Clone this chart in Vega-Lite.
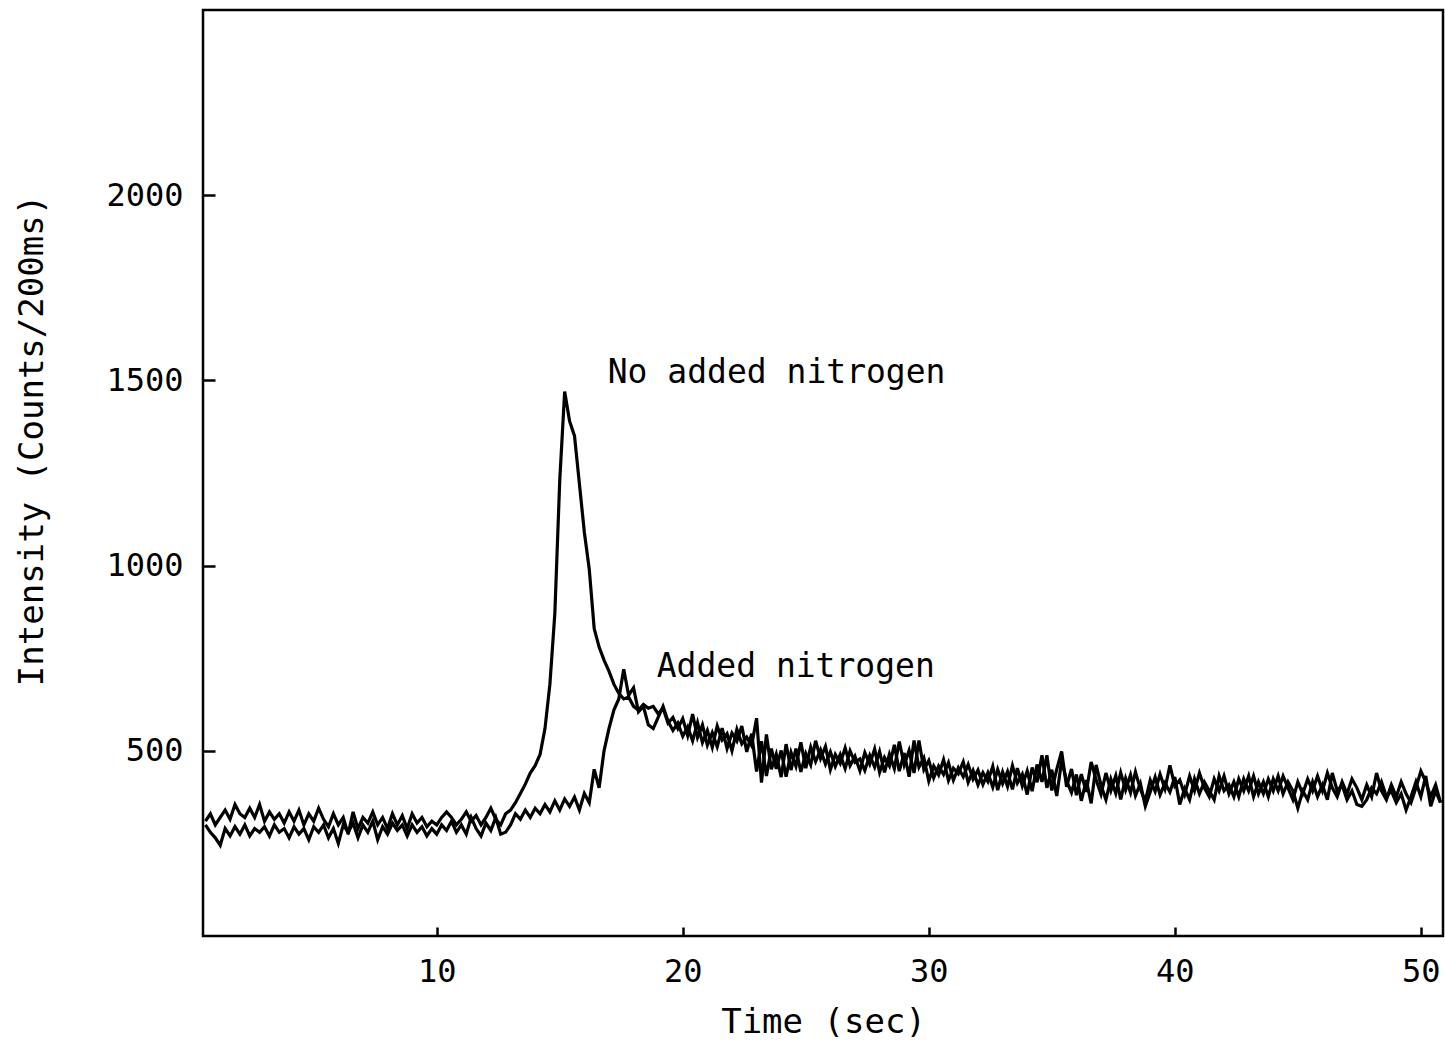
{
"$schema": "https://vega.github.io/schema/vega-lite/v6.json",
"autosize": {"type": "none"},
"width": 1240,
"height": 926,
"padding": {"left": 203, "top": 10, "right": 2, "bottom": 106},
"background": "white",
"config": {"view": {"stroke": "black", "strokeWidth": 2.5}, "font": "DejaVu Sans Mono"},
"layer": [
{
"data": {"values": [
{"t":0.6,"n":310,"a":300},{"t":0.8,"n":330,"a":280},{"t":1.0,"n":300,"a":265},{"t":1.2,"n":320,"a":245},{"t":1.4,"n":340,"a":290},
{"t":1.6,"n":315,"a":270},{"t":1.8,"n":355,"a":295},{"t":2.0,"n":330,"a":275},{"t":2.2,"n":320,"a":300},{"t":2.4,"n":345,"a":270},
{"t":2.6,"n":320,"a":290},{"t":2.8,"n":355,"a":280},{"t":3.0,"n":310,"a":295},{"t":3.2,"n":335,"a":270},{"t":3.4,"n":315,"a":300},
{"t":3.6,"n":330,"a":280},{"t":3.8,"n":305,"a":290},{"t":4.0,"n":335,"a":265},{"t":4.2,"n":310,"a":295},{"t":4.4,"n":340,"a":275},
{"t":4.6,"n":300,"a":290},{"t":4.8,"n":330,"a":260},{"t":5.0,"n":310,"a":295},{"t":5.2,"n":345,"a":280},{"t":5.4,"n":315,"a":300},
{"t":5.6,"n":295,"a":265},{"t":5.8,"n":330,"a":290},{"t":6.0,"n":300,"a":250},{"t":6.2,"n":320,"a":300},{"t":6.4,"n":275,"a":280},
{"t":6.6,"n":335,"a":305},{"t":6.8,"n":290,"a":265},{"t":7.0,"n":320,"a":300},{"t":7.2,"n":305,"a":280},{"t":7.4,"n":335,"a":310},
{"t":7.6,"n":300,"a":260},{"t":7.8,"n":320,"a":295},{"t":8.0,"n":290,"a":275},{"t":8.2,"n":330,"a":305},{"t":8.4,"n":300,"a":285},
{"t":8.6,"n":325,"a":300},{"t":8.8,"n":290,"a":270},{"t":9.0,"n":330,"a":300},{"t":9.2,"n":305,"a":280},{"t":9.4,"n":320,"a":295},
{"t":9.6,"n":295,"a":270},{"t":9.8,"n":310,"a":290},{"t":10.0,"n":300,"a":275},{"t":10.2,"n":320,"a":300},{"t":10.4,"n":335,"a":285},
{"t":10.6,"n":320,"a":310},{"t":10.8,"n":300,"a":280},{"t":11.0,"n":315,"a":300},{"t":11.2,"n":335,"a":275},{"t":11.4,"n":310,"a":320},
{"t":11.6,"n":325,"a":290},{"t":11.8,"n":300,"a":270},{"t":12.0,"n":320,"a":305},{"t":12.2,"n":345,"a":285},{"t":12.4,"n":315,"a":320},
{"t":12.6,"n":300,"a":275},{"t":12.8,"n":330,"a":280},{"t":13.0,"n":340,"a":300},{"t":13.2,"n":360,"a":330},{"t":13.4,"n":385,"a":315},
{"t":13.6,"n":410,"a":340},{"t":13.8,"n":440,"a":320},{"t":14.0,"n":460,"a":345},{"t":14.2,"n":490,"a":330},{"t":14.4,"n":560,"a":355},
{"t":14.6,"n":680,"a":335},{"t":14.8,"n":870,"a":365},{"t":15.0,"n":1230,"a":340},{"t":15.2,"n":1470,"a":370},{"t":15.4,"n":1390,"a":350},
{"t":15.6,"n":1350,"a":375},{"t":15.8,"n":1220,"a":340},{"t":16.0,"n":1090,"a":385},{"t":16.2,"n":990,"a":360},{"t":16.4,"n":830,"a":450},
{"t":16.6,"n":780,"a":400},{"t":16.8,"n":745,"a":500},{"t":17.0,"n":715,"a":560},{"t":17.2,"n":680,"a":610},{"t":17.4,"n":655,"a":640},
{"t":17.6,"n":640,"a":720},{"t":17.8,"n":645,"a":650},{"t":18.0,"n":620,"a":670},{"t":18.2,"n":610,"a":605},{"t":18.4,"n":625,"a":620},
{"t":18.6,"n":615,"a":570},{"t":18.8,"n":620,"a":560},{"t":19.0,"n":600,"a":590},{"t":19.2,"n":615,"a":620},{"t":19.4,"n":575,"a":580},
{"t":19.6,"n":590,"a":555},{"t":19.8,"n":560,"a":575},{"t":20.0,"n":587,"a":539},{"t":20.2,"n":541,"a":565},{"t":20.4,"n":599,"a":527},
{"t":20.6,"n":536,"a":576},{"t":20.8,"n":570,"a":522},{"t":21.0,"n":515,"a":555},{"t":21.2,"n":549,"a":509},{"t":21.4,"n":511,"a":567},
{"t":21.6,"n":561,"a":529},{"t":21.8,"n":506,"a":546},{"t":22.0,"n":548,"a":500},{"t":22.2,"n":526,"a":558},{"t":22.4,"n":567,"a":519},
{"t":22.6,"n":497,"a":537},{"t":22.8,"n":546,"a":514},{"t":23.0,"n":444,"a":588},{"t":23.2,"n":526,"a":414},{"t":23.4,"n":432,"a":544},
{"t":23.6,"n":506,"a":450},{"t":23.8,"n":451,"a":491},{"t":24.0,"n":501,"a":429},{"t":24.2,"n":430,"a":518},{"t":24.4,"n":496,"a":448},
{"t":24.6,"n":458,"a":506},{"t":24.8,"n":523,"a":443},{"t":25.0,"n":453,"a":493},{"t":25.2,"n":510,"a":462},{"t":25.4,"n":471,"a":527},
{"t":25.6,"n":503,"a":479},{"t":25.8,"n":464,"a":512},{"t":26.0,"n":497,"a":449},{"t":26.2,"n":458,"a":490},{"t":26.4,"n":490,"a":466},
{"t":26.6,"n":452,"a":508},{"t":26.8,"n":500,"a":460},{"t":27.0,"n":469,"a":485},{"t":27.2,"n":478,"a":446},{"t":27.4,"n":447,"a":495},
{"t":27.6,"n":488,"a":464},{"t":27.8,"n":456,"a":505},{"t":28.0,"n":498,"a":442},{"t":28.2,"n":442,"a":482},{"t":28.4,"n":491,"a":459},
{"t":28.6,"n":452,"a":516},{"t":28.8,"n":525,"a":445},{"t":29.0,"n":462,"a":494},{"t":29.2,"n":501,"a":430},{"t":29.4,"n":440,"a":528},
{"t":29.6,"n":528,"a":456},{"t":29.8,"n":449,"a":481},{"t":30.0,"n":474,"a":418},{"t":30.2,"n":427,"a":459},{"t":30.4,"n":459,"a":435},
{"t":30.6,"n":436,"a":476},{"t":30.8,"n":468,"a":420},{"t":31.0,"n":421,"a":453},{"t":31.2,"n":454,"a":438},{"t":31.4,"n":430,"a":470},
{"t":31.6,"n":463,"a":415},{"t":31.8,"n":423,"a":447},{"t":32.0,"n":448,"a":408},{"t":32.2,"n":409,"a":441},{"t":32.4,"n":441,"a":417},
{"t":32.6,"n":402,"a":458},{"t":32.8,"n":450,"a":394},{"t":33.0,"n":411,"a":443},{"t":33.2,"n":444,"a":404},{"t":33.4,"n":396,"a":460},
{"t":33.6,"n":453,"a":413},{"t":33.8,"n":405,"a":437},{"t":34.0,"n":446,"a":382},{"t":34.2,"n":391,"a":455},{"t":34.4,"n":463,"a":415},
{"t":34.6,"n":416,"a":488},{"t":34.8,"n":488,"a":400},{"t":35.0,"n":393,"a":449},{"t":35.2,"n":450,"a":378},{"t":35.4,"n":498,"a":474},
{"t":35.6,"n":403,"a":419},{"t":35.8,"n":451,"a":387},{"t":36.0,"n":380,"a":436},{"t":36.2,"n":437,"a":365},{"t":36.4,"n":389,"a":421},
{"t":36.6,"n":470,"a":358},{"t":36.8,"n":422,"a":462},{"t":37.0,"n":383,"a":407},{"t":37.2,"n":440,"a":368},{"t":37.4,"n":392,"a":424},
{"t":37.6,"n":433,"a":385},{"t":37.8,"n":369,"a":441},{"t":38.0,"n":426,"a":394},{"t":38.2,"n":387,"a":435},{"t":38.4,"n":443,"a":379},
{"t":38.6,"n":396,"a":412},{"t":38.8,"n":364,"a":350},{"t":39.0,"n":421,"a":389},{"t":39.2,"n":390,"a":429},{"t":39.4,"n":437,"a":381},
{"t":39.6,"n":397,"a":413},{"t":39.8,"n":461,"a":389},{"t":40.0,"n":405,"a":429},{"t":40.2,"n":421,"a":355},{"t":40.4,"n":382,"a":398},
{"t":40.6,"n":432,"a":368},{"t":40.8,"n":392,"a":424},{"t":41.0,"n":440,"a":384},{"t":41.2,"n":400,"a":416},{"t":41.4,"n":376,"a":392},
{"t":41.6,"n":424,"a":368},{"t":41.8,"n":392,"a":432},{"t":42.0,"n":432,"a":392},{"t":42.2,"n":384,"a":408},{"t":42.4,"n":416,"a":376},
{"t":42.6,"n":376,"a":424},{"t":42.8,"n":424,"a":392},{"t":43.0,"n":392,"a":432},{"t":43.2,"n":432,"a":376},{"t":43.4,"n":384,"a":416},
{"t":43.6,"n":416,"a":384},{"t":43.8,"n":376,"a":424},{"t":44.0,"n":424,"a":392},{"t":44.2,"n":392,"a":432},{"t":44.4,"n":432,"a":384},
{"t":44.6,"n":400,"a":416},{"t":44.8,"n":368,"a":392},{"t":45.0,"n":416,"a":345},{"t":45.2,"n":384,"a":392},{"t":45.4,"n":424,"a":368},
{"t":45.6,"n":392,"a":416},{"t":45.8,"n":432,"a":376},{"t":46.0,"n":392,"a":408},{"t":46.2,"n":440,"a":368},{"t":46.4,"n":400,"a":440},
{"t":46.6,"n":376,"a":392},{"t":46.8,"n":416,"a":408},{"t":47.0,"n":384,"a":368},{"t":47.2,"n":424,"a":392},{"t":47.4,"n":400,"a":355},
{"t":47.6,"n":368,"a":350},{"t":47.8,"n":408,"a":368},{"t":48.0,"n":376,"a":400},{"t":48.2,"n":440,"a":384},{"t":48.4,"n":392,"a":416},
{"t":48.6,"n":368,"a":376},{"t":48.8,"n":408,"a":392},{"t":49.0,"n":376,"a":360},{"t":49.2,"n":416,"a":384},{"t":49.4,"n":384,"a":340},
{"t":49.6,"n":360,"a":376},{"t":49.8,"n":400,"a":416},{"t":50.0,"n":445,"a":376},{"t":50.2,"n":416,"a":432},{"t":50.4,"n":376,"a":350},
{"t":50.6,"n":408,"a":392},{"t":50.8,"n":360,"a":360}
]},
"transform": [{"fold": ["n", "a"], "as": ["series", "v"]}],
"mark": {"type": "line", "color": "black", "strokeWidth": 3.2, "strokeJoin": "miter"},
"encoding": {
"x": {"field": "t", "type": "quantitative", "scale": {"domain": [0.5, 50.9], "nice": false, "zero": false},
"axis": {"title": "Time (sec)", "values": [10, 20, 30, 40, 50], "format": "d", "grid": false, "domain": false, "tickSize": -9, "tickWidth": 2.5, "tickColor": "black", "labelFontSize": 32, "labelColor": "black", "labelPadding": 29, "labelFont": "DejaVu Sans Mono", "titleFont": "DejaVu Sans Mono", "titleFontSize": 34, "titleFontWeight": "normal", "titleColor": "black", "titlePadding": 18}},
"y": {"field": "v", "type": "quantitative", "scale": {"domain": [0, 2500], "nice": false},
"axis": {"title": "Intensity (Counts/200ms)", "values": [500, 1000, 1500, 2000], "format": "d", "grid": false, "domain": false, "tickSize": -12, "tickWidth": 2.5, "tickColor": "black", "labelFontSize": 32, "labelColor": "black", "labelPadding": 32, "labelFont": "DejaVu Sans Mono", "titleFont": "DejaVu Sans Mono", "titleFontSize": 34, "titleFontWeight": "normal", "titleColor": "black", "titlePadding": 56, "titleY": 430}},
"detail": {"field": "series", "type": "nominal"}
}
},
{
"data": {"values": [
{"t": 16.95, "v": 1519, "label": "No added nitrogen"},
{"t": 18.94, "v": 726, "label": "Added nitrogen"}
]},
"mark": {"type": "text", "align": "left", "baseline": "middle", "fontSize": 33, "font": "DejaVu Sans Mono", "color": "black"},
"encoding": {
"x": {"field": "t", "type": "quantitative"},
"y": {"field": "v", "type": "quantitative"},
"text": {"field": "label", "type": "nominal"}
}
}
]
}
